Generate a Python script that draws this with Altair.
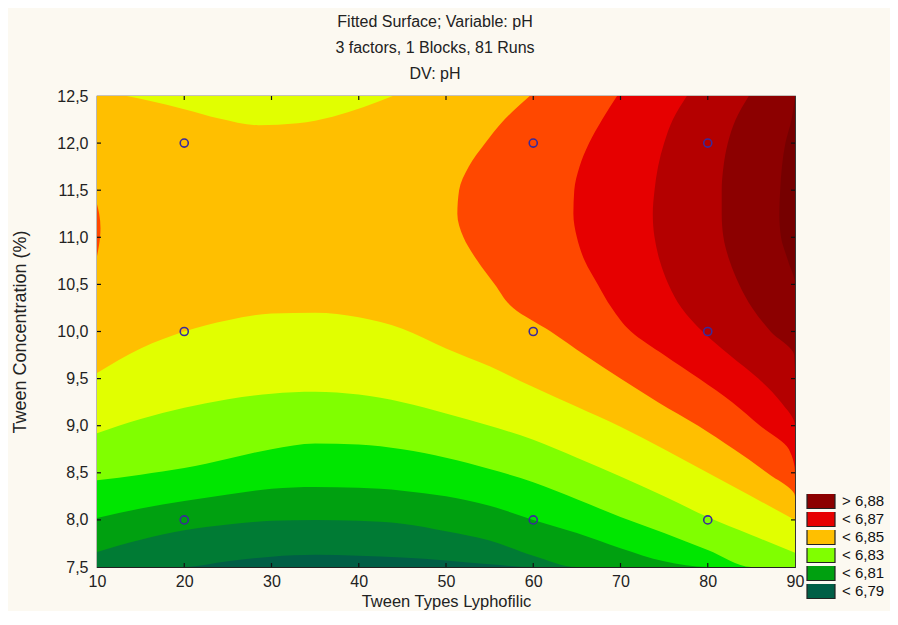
import altair as alt
import pandas as pd

# ---------------- data ----------------
BAND_LABELS = ["> 6,89", "> 6,88", "< 6,88", "< 6,87", "< 6,86", "< 6,85",
               "< 6,84", "< 6,83", "< 6,82", "< 6,81", "< 6,80", "< 6,79"]
BAND_COLORS = ["#760000", "#8c0000", "#b40000", "#e60000", "#ff4800", "#ffbf00",
               "#e1ff00", "#80ff00", "#00e600", "#00a010", "#007b34", "#005f46"]
LEGEND_SHOWN = ["> 6,88", "< 6,87", "< 6,85", "< 6,83", "< 6,81", "< 6,79"]

# contour lines given as y(x) (lower edge of the region above each level)
X_GRID = [10, 15, 20, 25, 30, 35, 40, 45, 50, 55, 60, 65, 70, 75, 80, 85, 90]
Y_679 = [7.5, 7.5, 7.5, 7.56, 7.61, 7.63, 7.62, 7.6, 7.57, 7.53, 7.5, 7.5, 7.5, 7.5, 7.5, 7.5, 7.5]
Y_680 = [7.66, 7.79, 7.89, 7.95, 7.99, 8.0, 7.99, 7.96, 7.88, 7.78, 7.62, 7.5, 7.5, 7.5, 7.5, 7.5, 7.5]
Y_681 = [8.02, 8.12, 8.2, 8.27, 8.33, 8.35, 8.34, 8.31, 8.25, 8.15, 8.0, 7.86, 7.7, 7.56, 7.5, 7.5, 7.5]
Y_682 = [8.42, 8.48, 8.55, 8.65, 8.75, 8.81, 8.8, 8.75, 8.66, 8.54, 8.4, 8.22, 8.03, 7.86, 7.68, 7.5, 7.5]
Y_683 = [8.92, 9.07, 9.19, 9.28, 9.34, 9.36, 9.33, 9.25, 9.13, 9.0, 8.85, 8.66, 8.46, 8.25, 8.03, 7.84, 7.65]
Y_684 = [9.56, 9.82, 10.0, 10.12, 10.19, 10.2, 10.15, 10.03, 9.82, 9.63, 9.41, 9.2, 8.99, 8.75, 8.5, 8.25, 8.0]

# the dip below 6,84 at the top edge
X_DIP = [13.4, 16, 20, 24, 28.5, 33, 37, 40.5, 43.9]
Y_DIP = [12.5, 12.45, 12.36, 12.26, 12.19, 12.21, 12.28, 12.38, 12.5]

# contour lines given as x(y) (left edge of the region above each level)
Y_GRID = [12.5, 12.25, 12.0, 11.75, 11.5, 11.25, 11.0, 10.75, 10.5, 10.25,
          10.0, 9.75, 9.5, 9.25, 9.0, 8.75, 8.5, 8.25, 8.0]
X_685 = [59.6, 56.7, 54.5, 52.6, 51.5, 51.3, 52.0, 53.6, 55.6, 57.7, 62.0, 65.9, 70.0, 74.3, 78.9, 83.0, 86.8, 90, 90]
X_686 = [69.6, 67.9, 66.4, 65.3, 64.7, 64.6, 65.0, 65.9, 67.4, 69.0, 71.2, 75.0, 79.0, 82.8, 86.0, 89.3, 90, 90, 90]
X_687 = [77.6, 76.0, 75.0, 74.3, 73.9, 73.7, 73.9, 74.5, 75.5, 77.0, 79.4, 82.5, 85.8, 88.4, 90, 90, 90, 90, 90]
X_688 = [84.7, 83.2, 82.3, 81.8, 81.6, 81.6, 81.8, 82.5, 83.6, 85.1, 87.2, 89.9, 90, 90, 90, 90, 90, 90, 90]
X_689 = [90, 89.6, 88.9, 88.5, 88.3, 88.2, 88.4, 89.2, 90, 90, 90, 90, 90, 90, 90, 90, 90, 90, 90]

# small patch above 6,85 on the left edge
Y_BUMP = [11.35, 11.25, 11.1, 11.0, 10.9, 10.8]
X_BUMP = [10, 10.25, 10.4, 10.35, 10.2, 10]

# design points
PTS_X = [20, 60, 80, 20, 60, 80, 20, 60, 80]
PTS_Y = [12, 12, 12, 10, 10, 10, 8, 8, 8]

X_LABELS = [10, 20, 30, 40, 50, 60, 70, 80, 90]
Y_LABELS = [7.5, 8.0, 8.5, 9.0, 9.5, 10.0, 10.5, 11.0, 11.5, 12.0, 12.5]
X_TICKS = [20, 30, 40, 50, 60, 70, 80]
Y_TICKS = [8.0, 8.5, 9.0, 9.5, 10.0, 10.5, 11.0, 11.5, 12.0]

W, H = 698, 471
FONT = "Liberation Sans"

# ---------------- scales / axes ----------------
XS = alt.Scale(domain=[10, 90], nice=False, zero=False)
YS = alt.Scale(domain=[7.5, 12.5], nice=False, zero=False)
XA = alt.Axis(values=X_LABELS, title="Tween Types Lyphofilic", grid=False, ticks=False,
              domain=False, labelFlush=False, labelPadding=6, titlePadding=4,
              labelFontSize=16, titleFontSize=16.5)
YA = alt.Axis(values=Y_LABELS, title="Tween Concentration (%)", grid=False, ticks=False,
              domain=False, labelFlush=False, labelPadding=9, titlePadding=27,
              labelFontSize=16, titleFontSize=18,
              labelExpr="replace(format(datum.value, '.1f'), '.', ',')")
LEG = alt.Legend(values=LEGEND_SHOWN, title=None, orient="none", legendX=709, legendY=398,
                 symbolType="M-1,-0.536H1V0.536H-1Z", symbolSize=784,
                 symbolStrokeColor="#222222", symbolStrokeWidth=1.2, symbolOpacity=1,
                 clipHeight=14, rowPadding=3, labelFontSize=15, labelOffset=6,
                 labelColor="#111111", padding=0, labelFont=FONT)
COLOR = alt.Color("band:N", scale=alt.Scale(domain=BAND_LABELS, range=BAND_COLORS), legend=LEG)


def xq(field):
    return alt.X(field, type="quantitative", scale=XS, axis=XA)


def yq(field):
    return alt.Y(field, type="quantitative", scale=YS, axis=YA)


layers = []

# base: lowest band everywhere
base_df = pd.DataFrame({"x": [10], "x2": [90], "y": [7.5], "y2": [12.5], "band": ["< 6,79"]})
layers.append(alt.Chart(base_df).mark_rect().encode(
    x=xq("x"), x2="x2", y=yq("y"), y2="y2", color=COLOR))

# vertical regions (above a y(x) contour)
vertical = [
    (X_GRID, Y_679, [12.5] * len(X_GRID), "< 6,80"),
    (X_GRID, Y_680, [12.5] * len(X_GRID), "< 6,81"),
    (X_GRID, Y_681, [12.5] * len(X_GRID), "< 6,82"),
    (X_GRID, Y_682, [12.5] * len(X_GRID), "< 6,83"),
    (X_GRID, Y_683, [12.5] * len(X_GRID), "< 6,84"),
    (X_GRID, Y_684, [12.5] * len(X_GRID), "< 6,85"),
    (X_DIP, Y_DIP, [12.5] * len(X_DIP), "< 6,84"),
]
for xs, lo, hi, band in vertical:
    df = pd.DataFrame({"x": xs, "ylo": lo, "yhi": hi, "band": band})
    layers.append(alt.Chart(df).mark_area(interpolate="monotone", clip=True).encode(
        x=xq("x"), y=yq("ylo"), y2="yhi", color=COLOR))

# horizontal regions (right of an x(y) contour)
horizontal = [
    (X_685, "< 6,86"),
    (X_686, "< 6,87"),
    (X_687, "< 6,88"),
    (X_688, "> 6,88"),
    (X_689, "> 6,89"),
]
for xs, band in horizontal:
    df = pd.DataFrame({"y": Y_GRID, "xlo": xs, "xhi": [90] * len(Y_GRID), "band": band})
    layers.append(alt.Chart(df).mark_area(interpolate="monotone", orient="horizontal", clip=True).encode(
        y=yq("y"), x=xq("xlo"), x2="xhi", color=COLOR))

bump_df = pd.DataFrame({"y": Y_BUMP, "xlo": [10] * len(Y_BUMP), "xhi": X_BUMP, "band": "< 6,86"})
layers.append(alt.Chart(bump_df).mark_area(interpolate="monotone", orient="horizontal", clip=True).encode(
    y=yq("y"), x=xq("xlo"), x2="xhi", color=COLOR))

# inside ticks on all four sides
xt = pd.DataFrame({"t": X_TICKS})
yt = pd.DataFrame({"t": Y_TICKS})
tick_style = dict(color="#111111", strokeWidth=1.2)
layers.append(alt.Chart(xt).mark_rule(**tick_style).encode(x=xq("t"), y=alt.value(0), y2=alt.value(4)))
layers.append(alt.Chart(xt).mark_rule(**tick_style).encode(x=xq("t"), y=alt.value(H - 4), y2=alt.value(H)))
layers.append(alt.Chart(yt).mark_rule(**tick_style).encode(y=yq("t"), x=alt.value(0), x2=alt.value(4)))
layers.append(alt.Chart(yt).mark_rule(**tick_style).encode(y=yq("t"), x=alt.value(W - 4), x2=alt.value(W)))

# design points
pts = pd.DataFrame({"x": PTS_X, "y": PTS_Y})
layers.append(alt.Chart(pts).mark_point(shape="circle", filled=False, size=65, color="#3a2a9a",
                                         strokeWidth=1.6, opacity=1).encode(x=xq("x"), y=yq("y")))

chart = alt.layer(*layers).properties(
    width=W, height=H,
    autosize=alt.AutoSizeParams(type="none"),
    padding={"left": 89, "top": 88, "right": 95, "bottom": 44},
    background="#fcf9f1",
    title=alt.TitleParams(
        text=["Fitted Surface; Variable: pH", "3 factors, 1 Blocks, 81 Runs", "DV: pH"],
        fontSize=16, font=FONT, fontWeight="normal", lineHeight=26, anchor="middle",
        frame="group", offset=6, dx=-11, color="#222222"),
).configure_view(
    stroke="#222222", strokeWidth=1.2
).configure_axis(
    labelFont=FONT, titleFont=FONT, labelColor="#222222", titleColor="#222222",
    titleFontWeight="normal"
)

chart.save("out.html", embed_options={"renderer": "svg", "actions": False})
